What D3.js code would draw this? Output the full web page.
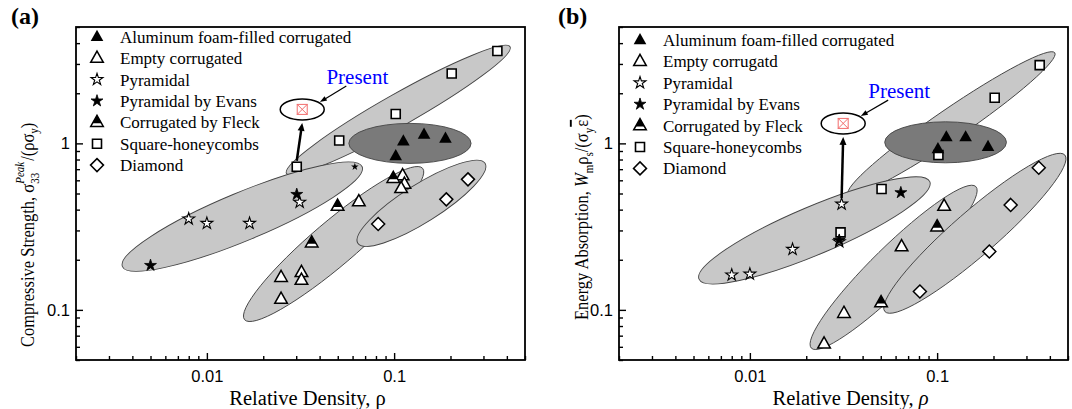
<!DOCTYPE html>
<html>
<head>
<meta charset="utf-8">
<script src="https://cdn.jsdelivr.net/npm/d3@7"></script>
<style>
body { margin: 0; background: #fff; }
svg { display: block; }
.serif { font-family: "Liberation Serif", "Times New Roman", serif; }
.sans { font-family: "Liberation Sans", Arial, sans-serif; }
</style>
</head>
<body>
<div id="chart"></div>
<script>
// axis ticks
const xMajor = [0.01, 0.1];
const xTickLabels = ["0.01", "0.1"];
const xMinor = [0.002, 0.003, 0.004, 0.005, 0.006, 0.007, 0.008, 0.009,
                0.02, 0.03, 0.04, 0.05, 0.06, 0.07, 0.08, 0.09, 0.2, 0.3, 0.4, 0.5];
const yMajor = [0.1, 1];
const yTickLabels = ["0.1", "1"];
const yMinor = [0.05, 0.06, 0.07, 0.08, 0.09, 0.2, 0.3, 0.4, 0.5, 0.6, 0.7, 0.8, 0.9, 2, 3, 4, 5];

const legendA = ["Aluminum foam-filled corrugated", "Empty corrugated", "Pyramidal",
                 "Pyramidal by Evans", "Corrugated by Fleck", "Square-honeycombs", "Diamond"];
const legendB = ["Aluminum foam-filled corrugated", "Empty corrugatd", "Pyramidal",
                 "Pyramidal by Evans", "Corrugated by Fleck", "Square-honeycombs", "Diamond"];

// (a) compressive strength  [relative density, value]
const aluminumA = [[0.102, 0.84], [0.112, 1.03], [0.1445, 1.13], [0.188, 1.07]];
const emptyA = [[0.0249, 0.157], [0.0249, 0.116], [0.032, 0.168], [0.032, 0.151],
                [0.0648, 0.447], [0.111, 0.64], [0.1135, 0.57], [0.109, 0.537]];
const pyramidalA = [[0.008, 0.352], [0.01, 0.331], [0.0169, 0.331], [0.0313, 0.443]];
const evansA = [[0.005, 0.185], [0.0302, 0.494]];
const evansSmallA = [[0.0617, 0.724]];
const fleckA = [[0.0363, 0.253], [0.0499, 0.42], [0.099, 0.617]];
const squareA = [[0.0302, 0.724], [0.0509, 1.04], [0.102, 1.5], [0.203, 2.63], [0.356, 3.59]];
const diamondA = [[0.0822, 0.328], [0.19, 0.461], [0.248, 0.608]];
const presentA = [0.0323, 1.6];
const presentFromA = [0.0302, 0.724];
const presentLabelA = [0.0636, 2.27];
// grouping zones: ends of the long axis
const squareZoneA = [[0.0266, 0.66], [0.416, 3.8]];
const pyramidZoneA = [[0.00354, 0.182], [0.0675, 0.724]];
const emptyZoneA = [[0.0159, 0.0873], [0.142, 0.708]];
const diamondZoneA = [[0.064, 0.251], [0.306, 0.759]];
const aluminumZoneA = [[0.0573, 1], [0.2576, 1]];

// (b) energy absorption
const aluminumB = [[0.101, 0.924], [0.112, 1.09], [0.142, 1.09], [0.187, 0.955]];
const emptyB = [[0.0249, 0.0625], [0.0318, 0.0955], [0.0646, 0.24], [0.109, 0.42]];
const pyramidalB = [[0.008, 0.162], [0.01, 0.164], [0.0169, 0.231], [0.0309, 0.432], [0.03, 0.257]];
const evansB = [[0.03, 0.262], [0.064, 0.506]];
const evansSmallB = [];
const fleckB = [[0.0502, 0.1106], [0.1, 0.316]];
const squareB = [[0.0305, 0.292], [0.0505, 0.532], [0.1016, 0.851], [0.203, 1.88], [0.353, 2.95]];
const diamondB = [[0.0809, 0.129], [0.19, 0.224], [0.247, 0.427], [0.349, 0.714]];
const presentB = [0.0315, 1.318];
const presentFromB = [0.0309, 0.432];
const presentLabelB = [0.0627, 1.87];
const squareZoneB = [[0.0335, 0.496], [0.425, 3.5]];
const pyramidZoneB = [[0.00535, 0.153], [0.0914, 0.589]];
const emptyZoneB = [[0.0213, 0.0589], [0.161, 0.55]];
const diamondZoneB = [[0.0526, 0.0977], [0.481, 0.851]];
const aluminumZoneB = [[0.0525, 1.015], [0.2345, 1.015]];

const W = 1072, H = 409;
const TOP = 27, BOTTOM = 360;
const X_DOMAIN = [0.002, 0.5], Y_DOMAIN = [0.05, 5];

const svg = d3.select("#chart").append("svg").attr("width", W).attr("height", H);

const TRI = "M0,-7L6.3,4.2L-6.3,4.2Z";
const TRI_TOP = "M0,-7L4.5,1L-4.5,1Z";
const SQUARE = "M-4.5,-4.5h9v9h-9Z";
const DIAMOND = "M0,-6.5L6.5,0L0,6.5L-6.5,0Z";
const STAR = d3.symbol(d3.symbolStar).size(44)();
const STAR_SMALL = d3.symbol(d3.symbolStar).size(18)();

const markers = {
    aluminum: g => g.append("path").attr("d", TRI).attr("fill", "#000"),
    empty: g => g.append("path").attr("d", TRI).attr("fill", "#fff").attr("stroke", "#000").attr("stroke-width", 1.5),
    pyramidal: g => g.append("path").attr("d", STAR).attr("fill", "#fff").attr("stroke", "#000").attr("stroke-width", 1.1),
    evans: g => g.append("path").attr("d", STAR).attr("fill", "#000").attr("stroke", "#000").attr("stroke-width", 0.8),
    evansSmall: g => g.append("path").attr("d", STAR_SMALL).attr("fill", "#000"),
    fleck: g => {
        g.append("path").attr("d", TRI).attr("fill", "#fff").attr("stroke", "#000").attr("stroke-width", 1.5);
        g.append("path").attr("d", TRI_TOP).attr("fill", "#000");
    },
    square: g => g.append("path").attr("d", SQUARE).attr("fill", "#fff").attr("stroke", "#000").attr("stroke-width", 1.6),
    diamond: g => g.append("path").attr("d", DIAMOND).attr("fill", "#fff").attr("stroke", "#000").attr("stroke-width", 1.5)
};
const legendKeys = ["aluminum", "empty", "pyramidal", "evans", "fleck", "square", "diamond"];

function arrow(g, x1, y1, x2, y2, w, headL, headW) {
    const L = Math.hypot(x2 - x1, y2 - y1), ux = (x2 - x1) / L, uy = (y2 - y1) / L;
    const bx = x2 - ux * headL, by = y2 - uy * headL;
    g.append("line").attr("x1", x1).attr("y1", y1).attr("x2", bx + ux).attr("y2", by + uy)
        .attr("stroke", "#000").attr("stroke-width", w);
    g.append("path")
        .attr("d", `M${x2},${y2}L${bx - uy * headW / 2},${by + ux * headW / 2}L${bx + uy * headW / 2},${by - ux * headW / 2}Z`)
        .attr("fill", "#000");
}

function drawPanel(cfg) {
    const g = svg.append("g");
    const x = d3.scaleLog().domain(X_DOMAIN).range([cfg.left, cfg.right]);
    const y = d3.scaleLog().domain(Y_DOMAIN).range([BOTTOM, TOP]);

    // grey zones
    cfg.zones.forEach(z => {
        const [p, q] = z.pts;
        const x1 = x(p[0]), y1 = y(p[1]), x2 = x(q[0]), y2 = y(q[1]);
        const cx = (x1 + x2) / 2, cy = (y1 + y2) / 2;
        const ang = Math.atan2(y2 - y1, x2 - x1) * 180 / Math.PI;
        g.append("ellipse")
            .attr("cx", cx).attr("cy", cy)
            .attr("rx", Math.hypot(x2 - x1, y2 - y1) / 2).attr("ry", z.b)
            .attr("transform", `rotate(${ang},${cx},${cy})`)
            .attr("fill", z.dark ? "#7a7a7a" : "#c8c8c8")
            .attr("stroke", "#444").attr("stroke-width", 0.9);
    });

    // points
    cfg.series.forEach(s => {
        s.data.forEach(d => {
            const m = g.append("g").attr("transform", `translate(${x(d[0])},${y(d[1])})`);
            markers[s.key](m);
        });
    });

    // present marker in its ellipse
    const px = x(cfg.present[0]), py = y(cfg.present[1]);
    const rx = 22, ry = 10.5;
    g.append("ellipse").attr("cx", px).attr("cy", py).attr("rx", rx).attr("ry", ry)
        .attr("fill", "#fff").attr("stroke", "#000").attr("stroke-width", 1.5);
    const pm = g.append("g").attr("transform", `translate(${px},${py})`)
        .attr("fill", "none").attr("stroke", "#f26d6d").attr("stroke-width", 1);
    pm.append("rect").attr("x", -5).attr("y", -5).attr("width", 10).attr("height", 10);
    pm.append("path").attr("d", "M-5,-5L5,5M5,-5L-5,5");

    arrow(g, x(cfg.presentFrom[0]), y(cfg.presentFrom[1]) - 6, px, py + ry + 3, 2.5, 8, 7);

    const lx = x(cfg.presentLabel[0]), ly = y(cfg.presentLabel[1]);
    g.append("text").attr("class", "serif").attr("x", lx).attr("y", ly)
        .attr("text-anchor", "middle").attr("font-size", 21).attr("fill", "#0000ff").text("Present");
    const t = 40 * Math.PI / 180;
    arrow(g, lx - 11, ly + 2, px + (rx + 1) * Math.cos(t), py - (ry + 1) * Math.sin(t), 1.2, 7, 5);

    // axes: ticks inside
    const xAxis = g.append("g").attr("class", "sans").attr("transform", `translate(0,${BOTTOM})`);
    xAxis.call(d3.axisBottom(x).tickValues(xMajor).tickSize(-7).tickPadding(10)
        .tickFormat((d, i) => xTickLabels[i]));
    xAxis.append("g").call(d3.axisBottom(x).tickValues(xMinor).tickSize(-4).tickFormat(""));
    const yAxis = g.append("g").attr("class", "sans").attr("transform", `translate(${cfg.left},0)`);
    yAxis.call(d3.axisLeft(y).tickValues(yMajor).tickSize(-7).tickPadding(6)
        .tickFormat((d, i) => yTickLabels[i]));
    yAxis.append("g").call(d3.axisLeft(y).tickValues(yMinor).tickSize(-4).tickFormat(""));
    g.selectAll(".domain").remove();
    g.selectAll(".tick line").attr("stroke", "#000").attr("stroke-width", 1.4);
    g.selectAll(".tick text").attr("font-size", 16.5).attr("fill", "#000")
        .attr("font-family", "Liberation Sans, Arial, sans-serif");

    g.append("rect").attr("x", cfg.left).attr("y", TOP)
        .attr("width", cfg.right - cfg.left).attr("height", BOTTOM - TOP)
        .attr("fill", "none").attr("stroke", "#000").attr("stroke-width", 1.8);

    // legend
    cfg.legend.forEach((label, i) => {
        const ry0 = cfg.legendY + i * 21.4;
        const m = g.append("g").attr("transform", `translate(${cfg.left + 21},${ry0})`);
        markers[legendKeys[i]](m);
        g.append("text").attr("class", "serif").attr("x", cfg.left + 44).attr("y", ry0 + 6)
            .attr("font-size", 17).text(label);
    });

    // panel tag and x label
    g.append("text").attr("class", "serif").attr("x", cfg.tagX).attr("y", 24)
        .attr("font-size", 24).attr("font-weight", "bold").text(cfg.tag);
    const xl = g.append("text").attr("class", "serif").attr("x", (cfg.left + cfg.right) / 2 + 7).attr("y", 405)
        .attr("text-anchor", "middle").attr("font-size", 20.5);
    xl.append("tspan").text("Relative Density, ");
    xl.append("tspan").attr("font-style", cfg.rhoItalic ? "italic" : "normal").text("ρ");

    return g;
}

const gA = drawPanel({
    left: 76, right: 525, tag: "(a)", tagX: 11, legendY: 36.7, legend: legendA, rhoItalic: false,
    zones: [
        { pts: squareZoneA, b: 16 }, { pts: pyramidZoneA, b: 24 }, { pts: emptyZoneA, b: 22 },
        { pts: diamondZoneA, b: 19 }, { pts: aluminumZoneA, b: 20, dark: true }
    ],
    series: [
        { key: "square", data: squareA }, { key: "pyramidal", data: pyramidalA },
        { key: "evans", data: evansA }, { key: "evansSmall", data: evansSmallA },
        { key: "empty", data: emptyA }, { key: "fleck", data: fleckA },
        { key: "diamond", data: diamondA }, { key: "aluminum", data: aluminumA }
    ],
    present: presentA, presentFrom: presentFromA, presentLabel: presentLabelA
});

const gB = drawPanel({
    left: 619, right: 1068, tag: "(b)", tagX: 558, legendY: 40, legend: legendB, rhoItalic: true,
    zones: [
        { pts: squareZoneB, b: 15 }, { pts: pyramidZoneB, b: 24 }, { pts: emptyZoneB, b: 21 },
        { pts: diamondZoneB, b: 22 }, { pts: aluminumZoneB, b: 20.5, dark: true }
    ],
    series: [
        { key: "square", data: squareB }, { key: "pyramidal", data: pyramidalB },
        { key: "evans", data: evansB }, { key: "evansSmall", data: evansSmallB },
        { key: "empty", data: emptyB }, { key: "fleck", data: fleckB },
        { key: "diamond", data: diamondB }, { key: "aluminum", data: aluminumB }
    ],
    present: presentB, presentFrom: presentFromB, presentLabel: presentLabelB
});

// y labels with sub/superscripts (glyphs slightly widened like the original)
const ya = gA.append("text").attr("class", "serif").attr("font-size", 16.5)
    .attr("transform", "translate(33.5,347) rotate(-90) scale(1,1.15)");
ya.append("tspan").text("Compressive Strength, σ");
const sup = ya.append("tspan").attr("font-size", 11).attr("font-style", "italic").attr("dy", -8).text("Peak");
const sub = ya.append("tspan").attr("font-size", 11).attr("dy", 13).text("33");
const wSup = sup.node().getComputedTextLength(), wSub = sub.node().getComputedTextLength();
sub.attr("dx", -wSup);
ya.append("tspan").attr("dy", -5).attr("dx", wSup - wSub + 1).text("/(ρσ");
ya.append("tspan").attr("font-size", 11).attr("dy", 4).text("y");
ya.append("tspan").attr("dy", -4).text(")");

const yb = gB.append("text").attr("class", "serif").attr("font-size", 16.5)
    .attr("transform", "translate(588,320) rotate(-90) scale(1,1.15)");
yb.append("tspan").text("Energy Absorption, ");
yb.append("tspan").attr("font-style", "italic").text("W");
yb.append("tspan").attr("font-size", 11).attr("dy", 4).text("m");
yb.append("tspan").attr("dy", -4).text("ρ");
yb.append("tspan").attr("font-size", 11).attr("dy", 4).text("s");
yb.append("tspan").attr("dy", -4).text("/(σ");
yb.append("tspan").attr("font-size", 11).attr("dy", 4).text("y");
yb.append("tspan").attr("dy", -4).attr("dx", 1).style("text-decoration", "overline").text("ε");
yb.append("tspan").text(")");
</script>
</body>
</html>
